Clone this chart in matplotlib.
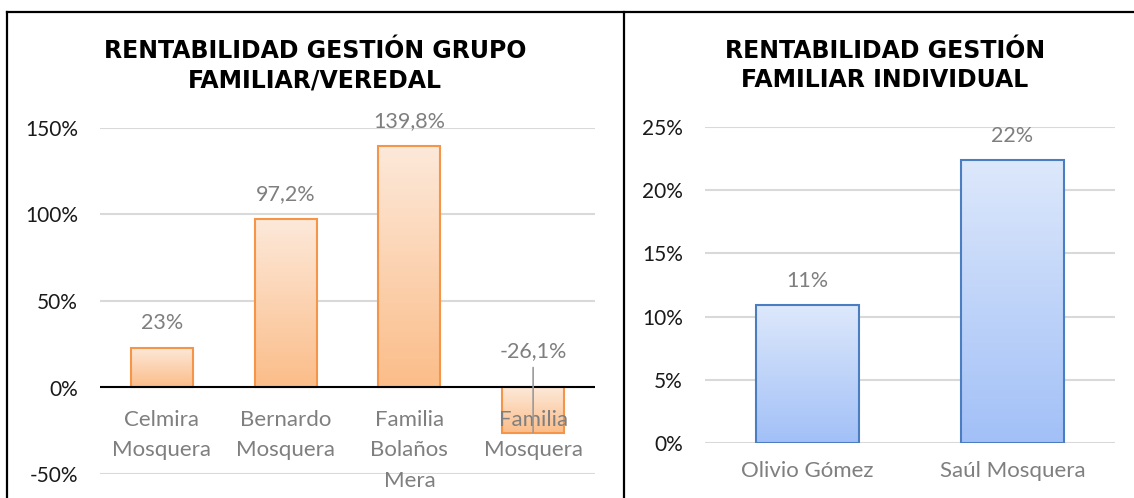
import numpy as np
import matplotlib
matplotlib.use("Agg")
import matplotlib.pyplot as plt
from matplotlib.colors import LinearSegmentedColormap
from matplotlib.lines import Line2D
from matplotlib.transforms import offset_copy

# ---------------- data ----------------
left_title = ["RENTABILIDAD GESTIÓN GRUPO", "FAMILIAR/VEREDAL"]
left_categories = ["Celmira\nMosquera", "Bernardo\nMosquera", "Familia\nBolaños\nMera", "Familia\nMosquera"]
left_values = [23.0, 97.2, 139.8, -26.1]
left_labels = ["23%", "97,2%", "139,8%", "-26,1%"]
left_yticks = [-50, 0, 50, 100, 150]

right_title = ["RENTABILIDAD GESTIÓN", "FAMILIAR INDIVIDUAL"]
right_categories = ["Olivio Gómez", "Saúl Mosquera"]
right_values = [10.9, 22.4]
right_labels = ["11%", "22%"]
right_yticks = [0, 5, 10, 15, 20, 25]

# ---------------- style ----------------
W, H = 1134, 498
FONT = "Lato"
TICK_FS = 15
LABEL_FS = 15.5
CAT_FS = 16
GRAY = "#7f7f7f"
GRID = "#d9d9d9"

fig = plt.figure(figsize=(W / 100, H / 100), dpi=100)


def px_axes(x0, y_top, x1, y_bot):
    return fig.add_axes([x0 / W, 1 - y_bot / H, (x1 - x0) / W, (y_bot - y_top) / H])


def gradient_bars(ax, values, c_top, c_bot, edge):
    xs = np.arange(len(values))
    bars = ax.bar(xs, values, width=0.5, color="none", edgecolor=edge,
                  linewidth=1.5, zorder=3)
    cmap = LinearSegmentedColormap.from_list("g", [c_top, c_bot])
    grad = np.linspace(0, 1, 256).reshape(-1, 1)
    for b in bars:
        x0, y0, w, h = b.get_x(), b.get_y(), b.get_width(), b.get_height()
        lo, hi = min(y0, y0 + h), max(y0, y0 + h)
        im = ax.imshow(grad, extent=[x0, x0 + w, lo, hi], origin="upper",
                       aspect="auto", cmap=cmap, zorder=2, interpolation="bilinear")
        im.set_clip_path(b)
    return bars


def style_axes(ax, yticks, n):
    ax.set_xlim(-0.5, n - 0.5)
    ax.set_ylim(yticks[0], yticks[-1])
    ax.set_yticks(yticks)
    ax.set_yticklabels([f"{t}%" for t in yticks], fontfamily=FONT,
                       fontsize=TICK_FS, color="#1a1a1a")
    ax.set_xticks([])
    ax.tick_params(axis="y", length=0, pad=16)
    ax.grid(axis="y", color=GRID, linewidth=1.5, zorder=0)
    ax.set_axisbelow(True)
    for s in ax.spines.values():
        s.set_visible(False)
    ax.set_facecolor("none")


# ---------------- left chart ----------------
axL = px_axes(100, 128, 595, 474)
gradient_bars(axL, left_values, "#fde9da", "#fbbd89", "#f5954a")
style_axes(axL, left_yticks, len(left_values))
axL.axhline(0, color="black", linewidth=1.5, zorder=4)

for i, (v, lab) in enumerate(zip(left_values, left_labels)):
    if v >= 0:
        axL.annotate(lab, xy=(i, v), xytext=(0, 19), textcoords="offset pixels",
                     ha="center", va="baseline", fontfamily=FONT,
                     fontsize=LABEL_FS, color=GRAY)
    else:
        axL.annotate(lab, xy=(i, 0), xytext=(0, 30), textcoords="offset pixels",
                     ha="center", va="baseline", fontfamily=FONT,
                     fontsize=LABEL_FS, color=GRAY)
        axL.annotate("", xy=(i, v), xycoords="data", xytext=(i, 0),
                     textcoords=offset_copy(axL.transData, fig=fig, x=0, y=20, units="dots"),
                     arrowprops=dict(arrowstyle="-", color="#9a9a9a", lw=1.2,
                                     shrinkA=0, shrinkB=0), zorder=6)

for i, cat in enumerate(left_categories):
    axL.annotate(cat, xy=(i, 0), xytext=(0, -22), textcoords="offset pixels",
                 ha="center", va="top", fontfamily=FONT, fontsize=CAT_FS,
                 color=GRAY, linespacing=1.68, zorder=5)

# ---------------- right chart ----------------
axR = px_axes(705, 127, 1115, 443)
gradient_bars(axR, right_values, "#dde8fb", "#a2c0f7", "#4a7ec0")
style_axes(axR, right_yticks, len(right_values))

for i, (v, lab) in enumerate(zip(right_values, right_labels)):
    axR.annotate(lab, xy=(i, v), xytext=(0, 18), textcoords="offset pixels",
                 ha="center", va="baseline", fontfamily=FONT,
                 fontsize=LABEL_FS, color=GRAY)

for i, cat in enumerate(right_categories):
    axR.annotate(cat, xy=(i, 0), xytext=(0, -18), textcoords="offset pixels",
                 ha="center", va="top", fontfamily=FONT, fontsize=CAT_FS,
                 color=GRAY)

# ---------------- titles ----------------
for cx, lines in ((315, left_title), (885, right_title)):
    for k, line in enumerate(lines):
        fig.text(cx / W, 1 - (58 + 29 * k) / H, line, ha="center", va="baseline",
                 fontfamily="DejaVu Sans", fontweight="bold", fontsize=17,
                 color="black")

# ---------------- panel borders ----------------
for xs, ys in (([7, W], [12, 12]), ([7, 7], [12, H]), ([624, 624], [12, H])):
    fig.add_artist(Line2D([x / W for x in xs], [1 - y / H for y in ys],
                          color="black", linewidth=1.6, transform=fig.transFigure))

fig.savefig("out.png", dpi=100)
